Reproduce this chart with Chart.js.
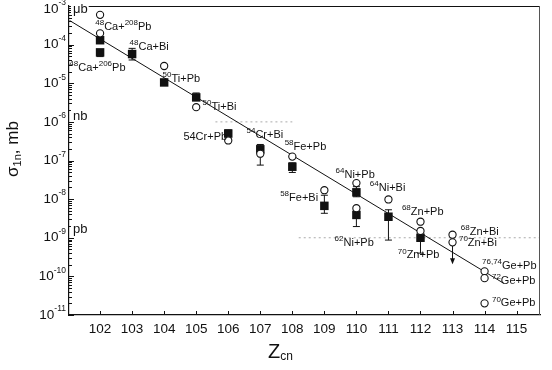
<!DOCTYPE html>
<html>
<head>
<meta charset="utf-8">
<script src="https://cdn.jsdelivr.net/npm/chart.js@4/dist/chart.umd.min.js"></script>
<style>
body{margin:0;background:#fff;}
#wrap{width:552px;height:370px;}
</style>
</head>
<body>
<div id="wrap"><canvas id="myChart"></canvas></div>
<script>
// measured cross sections (filled squares, with error bars)
const filledZ = [102, 102, 103, 104, 105, 106, 107, 108, 109, 110, 110, 111, 112];
const filledSigma = [1.3e-4, 6.3e-5, 5.7e-5, 1.05e-5, 4.3e-6, 5e-7, 1.95e-7, 6.9e-8, 6.7e-9, 1.5e-8, 3.9e-9, 3.5e-9, 1.0e-9];
const filledLow = [null, 4.9e-5, 4.0e-5, null, 3.6e-6, 4.1e-7, 7.6e-8, 4.9e-8, 4.3e-9, 1.15e-8, 1.95e-9, 8.7e-10, 4e-10];
const filledHigh = [null, null, 8e-5, null, 5.6e-6, 6.2e-7, 2.6e-7, 8.7e-8, 1.26e-8, 2.1e-8, 5.5e-9, 5.3e-9, 1.4e-9];

// calculated cross sections (open circles)
const openZ = [102, 102, 104, 105, 106, 107, 108, 109, 110, 110, 111, 112, 112, 113, 113, 114, 114, 114];
const openSigma = [5.9e-4, 1.96e-4, 2.8e-5, 2.4e-6, 3.3e-7, 1.5e-7, 1.26e-7, 1.7e-8, 2.6e-8, 5.8e-9, 9.8e-9, 2.6e-9, 1.5e-9, 1.2e-9, 7.6e-10, 1.35e-10, 9e-11, 2e-11];

// upper limit arrow
const limitZ = [113];
const limitFrom = [7e-10];
const limitTo = [2.2e-10];

// systematics line
const fitZ = [101.05, 114.6];
const fitSigma = [4.2e-4, 6.6e-11];

// axes
const xTicks = [102, 103, 104, 105, 106, 107, 108, 109, 110, 111, 112, 113, 114, 115];
const yExponents = [-3, -4, -5, -6, -7, -8, -9, -10, -11];

// reaction labels: even parts superscript, odd parts normal
const reactionText = [
    ['48', 'Ca+', '208', 'Pb'],
    ['48', 'Ca+Bi'],
    ['48', 'Ca+', '206', 'Pb'],
    ['50', 'Ti+Pb'],
    ['50', 'Ti+Bi'],
    ['', '54Cr+Pb'],
    ['54', 'Cr+Bi'],
    ['58', 'Fe+Pb'],
    ['58', 'Fe+Bi'],
    ['64', 'Ni+Pb'],
    ['64', 'Ni+Bi'],
    ['62', 'Ni+Pb'],
    ['68', 'Zn+Pb'],
    ['70', 'Zn+Pb'],
    ['68', 'Zn+Bi'],
    ['70', 'Zn+Bi'],
    ['76,74', 'Ge+Pb'],
    ['72', 'Ge+Pb'],
    ['70', 'Ge+Pb']
];
const reactionZ = [101.85, 102.92, 101.04, 103.95, 105.2, 104.6, 106.57, 107.76, 107.62, 109.35, 110.42, 109.32, 111.42, 111.29, 113.26, 113.2, 113.92, 114.23, 114.23];
const reactionSigma = [2.9e-4, 8.7e-5, 2.45e-5, 1.3e-5, 2.45e-6, 4.1e-7, 4.6e-7, 2.2e-7, 1.07e-8, 4.2e-8, 1.95e-8, 7.2e-10, 4.7e-9, 3.5e-10, 1.4e-9, 7.2e-10, 1.86e-10, 7.6e-11, 2.0e-11];

// unit marks next to the axis
const unitText = ['\u03bcb', 'nb', 'pb'];
const unitSigma = [8.3e-4, 1.4e-6, 1.6e-9];

const FONT = '"Liberation Sans", Arial, sans-serif';
const INK = '#111';

function richText(c, parts, x, y, big, small, rise) {
    let cx = x;
    parts.forEach((p, i) => {
        if (!p) return;
        const sup = i % 2 === 0;
        c.font = (sup ? small : big) + 'px ' + FONT;
        c.fillText(p, cx, sup ? y - rise : y);
        cx += c.measureText(p).width;
    });
    return cx;
}

const decor = {
    id: 'decor',
    beforeDatasetsDraw(chart) {
        const c = chart.ctx;
        const xs = chart.scales.x, ys = chart.scales.y;
        const a = chart.chartArea;
        c.save();
        // faint dotted unit levels
        c.strokeStyle = '#aaa';
        c.lineWidth = 1;
        c.setLineDash([2, 3]);
        c.beginPath();
        c.moveTo(xs.getPixelForValue(105.6), ys.getPixelForValue(1e-6));
        c.lineTo(xs.getPixelForValue(108), ys.getPixelForValue(1e-6));
        c.moveTo(xs.getPixelForValue(108.2), ys.getPixelForValue(1e-9));
        c.lineTo(a.right, ys.getPixelForValue(1e-9));
        c.stroke();
        c.setLineDash([]);

        // error bars
        c.strokeStyle = INK;
        c.lineWidth = 1;
        filledZ.forEach((z, i) => {
            const lo = filledLow[i] ?? filledSigma[i];
            const hi = filledHigh[i] ?? filledSigma[i];
            if (lo === hi) return;
            const px = xs.getPixelForValue(z);
            const y1 = ys.getPixelForValue(lo), y2 = ys.getPixelForValue(hi);
            c.beginPath();
            c.moveTo(px, y1); c.lineTo(px, y2);
            if (filledLow[i] != null) { c.moveTo(px - 3.5, y1); c.lineTo(px + 3.5, y1); }
            if (filledHigh[i] != null) { c.moveTo(px - 3.5, y2); c.lineTo(px + 3.5, y2); }
            c.stroke();
        });

        // upper limit arrow
        limitZ.forEach((z, i) => {
            const px = xs.getPixelForValue(z);
            const y1 = ys.getPixelForValue(limitFrom[i]), y2 = ys.getPixelForValue(limitTo[i]);
            c.beginPath();
            c.moveTo(px, y1); c.lineTo(px, y2);
            c.stroke();
            c.fillStyle = INK;
            c.beginPath();
            c.moveTo(px - 2.5, y2 - 5); c.lineTo(px + 2.5, y2 - 5); c.lineTo(px, y2 + 1);
            c.closePath();
            c.fill();
        });
        c.restore();
    },
    afterDraw(chart) {
        const c = chart.ctx;
        const xs = chart.scales.x, ys = chart.scales.y;
        const a = chart.chartArea;
        c.save();
        c.strokeStyle = INK;
        c.lineWidth = 1;
        // top and right frame
        c.beginPath();
        c.moveTo(a.left, a.top + 0.5); c.lineTo(a.right, a.top + 0.5);
        c.stroke();
        c.strokeStyle = '#555';
        c.beginPath();
        c.moveTo(a.right - 0.5, a.top); c.lineTo(a.right - 0.5, a.bottom);
        c.stroke();

        // inward ticks
        c.strokeStyle = INK;
        c.beginPath();
        xTicks.forEach(v => {
            const px = Math.round(xs.getPixelForValue(v)) + 0.5;
            c.moveTo(px, a.bottom); c.lineTo(px, a.bottom - 4);
        });
        yExponents.forEach(e => {
            const py = Math.round(ys.getPixelForValue(Math.pow(10, e))) + 0.5;
            c.moveTo(a.left, py); c.lineTo(a.left + 5, py);
            if (e < -3) {
                for (let k = 2; k <= 9; k++) {
                    const my = Math.round(ys.getPixelForValue(k * Math.pow(10, e))) + 0.5;
                    c.moveTo(a.left, my); c.lineTo(a.left + 3, my);
                }
            }
        });
        c.stroke();

        c.fillStyle = INK;
        c.textBaseline = 'middle';
        // x tick labels
        c.textAlign = 'center';
        c.font = '13.5px ' + FONT;
        xTicks.forEach(v => c.fillText(String(v), xs.getPixelForValue(v), a.bottom + 14));

        // y tick labels 10^n
        c.textAlign = 'left';
        yExponents.forEach(e => {
            const py = Math.max(ys.getPixelForValue(Math.pow(10, e)), 9);
            c.font = '8.5px ' + FONT;
            const ew = c.measureText(String(e)).width;
            c.font = '13.5px ' + FONT;
            const bw = c.measureText('10').width;
            const x0 = a.left - 3 - ew - bw;
            c.fillText('10', x0, py);
            c.font = '8.5px ' + FONT;
            c.fillText(String(e), x0 + bw, py - 6);
        });

        // unit marks
        c.font = '13px ' + FONT;
        unitText.forEach((t, i) => {
            const py = ys.getPixelForValue(unitSigma[i]);
            const w = c.measureText(t).width;
            c.fillStyle = '#fff';
            c.fillRect(a.left + 2, py - 7, w + 3, 12);
            c.fillStyle = INK;
            c.fillText(t, a.left + 4, py);
        });

        // reaction labels
        reactionText.forEach((parts, i) => {
            const px = xs.getPixelForValue(reactionZ[i]);
            const py = ys.getPixelForValue(reactionSigma[i]);
            richText(c, parts, px, py, 11, 8, 4);
        });

        // axis titles
        c.font = '20px ' + FONT;
        const zx = 268, zy = 352;
        c.fillText('Z', zx, zy);
        const zw = c.measureText('Z').width;
        c.font = '12px ' + FONT;
        c.fillText('cn', zx + zw, zy + 5);

        c.translate(13, 149);
        c.rotate(-Math.PI / 2);
        c.textAlign = 'left';
        c.font = '17px ' + FONT;
        const sw = c.measureText('\u03c3').width;
        c.font = '11px ' + FONT;
        const subw = c.measureText('1n').width;
        c.font = '17px ' + FONT;
        const restw = c.measureText(', mb').width;
        let tx = -(sw + subw + restw) / 2;
        c.fillText('\u03c3', tx, 0);
        tx += sw;
        c.font = '11px ' + FONT;
        c.fillText('1n', tx, 5);
        tx += subw;
        c.font = '17px ' + FONT;
        c.fillText(', mb', tx, 0);
        c.restore();
    }
};

const ctx = document.getElementById('myChart');
const myChart = new Chart(ctx, {
    type: 'scatter',
    data: {
        datasets: [
            {
                type: 'line',
                data: fitZ.map((z, i) => ({x: z, y: fitSigma[i]})),
                borderColor: INK,
                borderWidth: 1,
                pointRadius: 0,
                fill: false,
                order: 3
            },
            {
                data: filledZ.map((z, i) => ({x: z, y: filledSigma[i]})),
                pointStyle: 'rect',
                pointRadius: 6,
                backgroundColor: INK,
                borderColor: INK,
                borderWidth: 0,
                order: 2
            },
            {
                data: openZ.map((z, i) => ({x: z, y: openSigma[i]})),
                pointStyle: 'circle',
                pointRadius: 3.6,
                backgroundColor: '#fff',
                borderColor: INK,
                borderWidth: 1.1,
                order: 1
            }
        ]
    },
    options: {
        animation: false,
        responsive: true,
        maintainAspectRatio: false,
        layout: {
            padding: {top: 6, right: 12, left: 0, bottom: 0}
        },
        plugins: {
            legend: {display: false},
            tooltip: {enabled: false}
        },
        scales: {
            x: {
                type: 'linear',
                min: 101.03,
                max: 115.73,
                grid: {display: false, drawTicks: false},
                border: {color: INK, width: 1.2},
                ticks: {display: false},
                afterFit(s) { s.height = 55; }
            },
            y: {
                type: 'logarithmic',
                min: 1e-11,
                max: 1e-3,
                grid: {display: false, drawTicks: false},
                border: {color: INK, width: 1.2},
                ticks: {display: false},
                afterFit(s) { s.width = 69; }
            }
        }
    },
    plugins: [decor]
});
</script>
</body>
</html>
